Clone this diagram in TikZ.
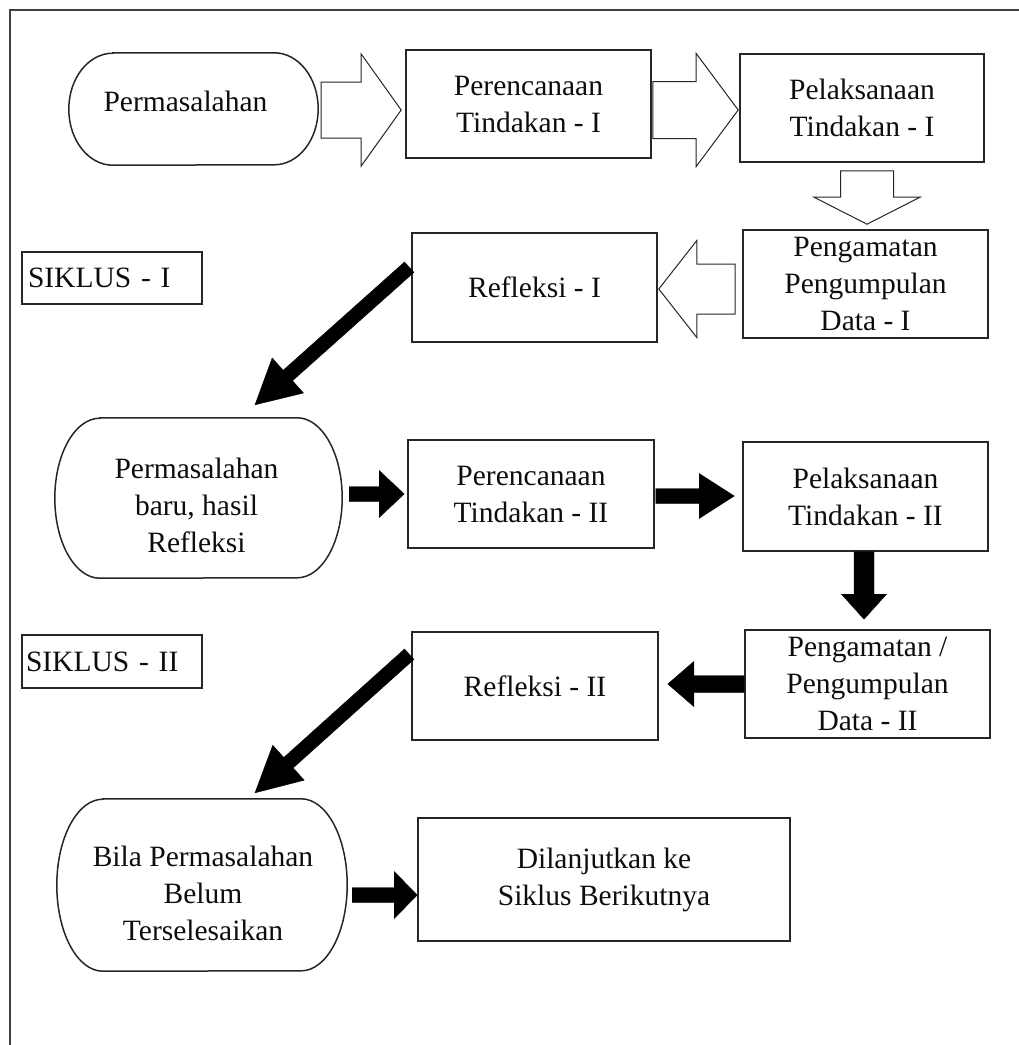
\documentclass[tikz,border=0pt]{standalone}
\usepackage{fontspec}
\setmainfont{Liberation Serif}
\usetikzlibrary{calc}
% capsule outline with elliptical ends: node, x radius, y radius
\newcommand\capsule[3]{%
  \draw[shapeline] ([xshift=#2pt]#1.north west) -- ([xshift=-#2pt]#1.north east)
    arc[start angle=90,end angle=-90,x radius=#2pt,y radius=#3pt]
    -- ([xshift=#2pt]#1.south west)
    arc[start angle=270,end angle=90,x radius=#2pt,y radius=#3pt] -- cycle;}
% block arrow: style, start, tip, half shaft, half head, head length
\newcommand\blockarrow[6]{%
  \path ($(#3)!#6pt!(#2)$) coordinate (bb);
  \draw[#1] ($(#2)!#4pt!90:(#3)$) -- ($(bb)!#4pt!90:(#3)$) -- ($(bb)!#5pt!90:(#3)$)
    -- (#3) -- ($(bb)!#5pt!-90:(#3)$) -- ($(bb)!#4pt!-90:(#3)$)
    -- ($(#2)!#4pt!-90:(#3)$) -- cycle;}
\begin{document}
\begin{tikzpicture}[x=1pt,y=-1pt,
  txt/.style={font=\fontsize{29.5}{37}\selectfont, align=center, text=black!95, inner sep=0pt},
  box/.style={txt, draw=black!85, line width=1.6pt},
  capnode/.style={txt},
  shapeline/.style={draw=black!85, line width=1.5pt},
  hollow/.style={draw=black!85, line width=1pt, fill=white, line join=miter},
  blackarrow/.style={fill=black, draw=black, line width=0.4pt, line join=miter},
  frameline/.style={draw=black!75, line width=2pt}]
\useasboundingbox (0,0) rectangle (1019,1045);
\draw[frameline] (10,1045) -- (10,10) -- (1019,10);

% row 1
\node[capnode, minimum width=249pt, minimum height=112pt] (perm) at (193.5,109) {};
\node[txt] (permtxt) at ($(perm.center)+(-8,-8)$) {Permasalahan};
\node[box, minimum width=245pt, minimum height=108pt] (per1) at (528.5,104) {Perencanaan\\Tindakan - I};
\node[box, minimum width=244pt, minimum height=108pt] (pel1) at (862,108) {Pelaksanaan\\Tindakan - I};
% row 2
\node[box, minimum width=180pt, minimum height=52pt, text width=168pt, align=left] (sik1) at (112,278) {SIKLUS - I};
\node[box, minimum width=245pt, minimum height=109pt] (ref1) at (534.5,287.5) {Refleksi - I};
\node[box, minimum width=245pt, minimum height=108pt] (pen1) at (865.5,284) {Pengamatan\\Pengumpulan\\Data - I};
% row 3
\node[capnode, minimum width=287pt, minimum height=160pt] (perm2) at (198.5,498) {};
\node[txt] (perm2txt) at ($(perm2.center)+(-2,7)$) {Permasalahan\\baru, hasil\\Refleksi};
\node[box, minimum width=246pt, minimum height=108pt] (per2) at (531,494) {Perencanaan\\Tindakan - II};
\node[box, minimum width=245pt, minimum height=109pt] (pel2) at (865.5,496.5) {Pelaksanaan\\Tindakan - II};
% row 4
\node[box, minimum width=180pt, minimum height=53pt, text width=172pt, align=left] (sik2) at (112,661.5) {SIKLUS - II};
\node[box, minimum width=246pt, minimum height=108pt] (ref2) at (535,686) {Refleksi - II};
\node[box, minimum width=245pt, minimum height=108pt] (pen2) at (867.5,684) {Pengamatan /\\Pengumpulan\\Data - II};
% row 5
\node[capnode, minimum width=290pt, minimum height=172pt] (bila) at (202,885) {};
\node[txt] (bilatxt) at ($(bila.center)+(1,8)$) {Bila Permasalahan\\Belum\\Terselesaikan};
\node[box, minimum width=372pt, minimum height=123pt] (dil) at (604,879.5) {Dilanjutkan ke\\Siklus Berikutnya};

\capsule{perm}{44}{56}
\capsule{perm2}{45}{80}
\capsule{bila}{46}{86}

% hollow arrows (cycle I)
\coordinate (a1s) at ($(perm.east)+(3,1)$);
\coordinate (a1t) at ($(per1.west |- a1s)+(-4,0)$);
\blockarrow{hollow}{a1s}{a1t}{28}{56}{40}
\coordinate (a2s) at ($(per1.east)+(1,6)$);
\coordinate (a2t) at ($(pel1.west |- a2s)+(-1,0)$);
\blockarrow{hollow}{a2s}{a2t}{28.5}{56.5}{42}
\coordinate (a3s) at ($(pel1.south)+(5,8)$);
\coordinate (a3t) at ($(a3s |- pen1.north)+(0,-5)$);
\blockarrow{hollow}{a3s}{a3t}{26.5}{53}{27}
\coordinate (a4s) at ($(pen1.west)+(-7,5)$);
\coordinate (a4t) at ($(ref1.east |- a4s)+(1,0)$);
\blockarrow{hollow}{a4s}{a4t}{25}{48.5}{38}

% black arrows
\coordinate (b1s) at ($(ref1.north west)+(-2,35)$);
\coordinate (b1t) at ($(perm2.north)+(56.5,-13)$);
\blockarrow{blackarrow}{b1s}{b1t}{7}{23.5}{44}
\coordinate (b3s) at ($(perm2.east)+(7,-4)$);
\coordinate (b3t) at ($(per2.west |- b3s)+(-3,0)$);
\blockarrow{blackarrow}{b3s}{b3t}{7.5}{23.5}{25}
\coordinate (b4s) at ($(per2.east)+(1,2)$);
\coordinate (b4t) at ($(pel2.west |- b4s)+(-8,0)$);
\blockarrow{blackarrow}{b4s}{b4t}{7.5}{22.5}{35}
\coordinate (b5s) at ($(pel2.south)+(-1.5,0)$);
\coordinate (b5t) at ($(b5s |- pen2.north)+(0,-10)$);
\blockarrow{blackarrow}{b5s}{b5t}{10}{22.5}{25}
\coordinate (b6s) at (pen2.west);
\coordinate (b6t) at ($(ref2.east |- b6s)+(9,0)$);
\blockarrow{blackarrow}{b6s}{b6t}{8.5}{22.5}{26}
\coordinate (b2s) at ($(ref2.north west)+(-2,23)$);
\coordinate (b2t) at ($(bila.north)+(53,-6)$);
\blockarrow{blackarrow}{b2s}{b2t}{7}{23.5}{45}
\coordinate (b7s) at ($(bila.east)+(5,10)$);
\coordinate (b7t) at (dil.west |- b7s);
\blockarrow{blackarrow}{b7s}{b7t}{7.5}{23.5}{23}
\end{tikzpicture}
\end{document}
